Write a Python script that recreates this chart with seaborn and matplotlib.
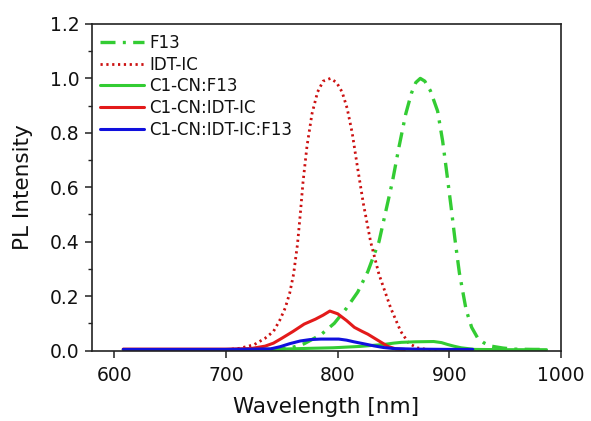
import matplotlib
matplotlib.use("Agg")
import matplotlib.pyplot as plt
import seaborn as sns
import numpy as np
from matplotlib.ticker import MultipleLocator

# ---- data ----
f13_wl = [740, 757, 770, 785, 797, 808, 818, 827, 837, 843, 849, 855, 861, 866, 870, 874,
          878, 883, 889.5, 894, 897.5, 901.5, 905, 909, 915, 920, 925.5, 931, 937.5, 948, 958, 975, 987]
f13_val = [0.004, 0.008, 0.025, 0.058, 0.10, 0.156, 0.215, 0.29, 0.40, 0.51, 0.62, 0.75, 0.87, 0.945, 0.985, 1.0,
           0.99, 0.955, 0.88, 0.77, 0.66, 0.53, 0.41, 0.285, 0.15, 0.085, 0.045, 0.028, 0.016, 0.009, 0.005, 0.004, 0.004]

idt_wl = [700, 712, 725, 735, 742.5, 748, 753, 757, 760.5, 764, 766.5, 769, 772.5, 777, 782, 787, 793.5,
          799, 804, 808.5, 813, 817.5, 823, 829.5, 837, 847.5, 856.5, 864, 872, 880, 890]
idt_val = [0.003, 0.008, 0.021, 0.045, 0.07, 0.11, 0.156, 0.21, 0.28, 0.39, 0.50, 0.62, 0.75, 0.87, 0.95, 0.99, 1.0,
           0.985, 0.95, 0.89, 0.80, 0.68, 0.54, 0.40, 0.28, 0.156, 0.07, 0.025, 0.009, 0.004, 0.003]

cf_wl = [608, 700, 748, 775, 796, 820, 841, 850, 857, 870, 886, 893, 898.5, 904, 910.5, 922.5, 950, 987]
cf_val = [0.003, 0.003, 0.005, 0.008, 0.010, 0.015, 0.022, 0.027, 0.030, 0.032, 0.033, 0.029, 0.022, 0.016, 0.010, 0.004, 0.003, 0.003]

ci_wl = [608, 650, 700, 722, 735, 742.5, 750, 760, 770, 780, 787, 793, 800, 808, 815, 822, 827, 835, 845, 852, 860]
ci_val = [0.005, 0.005, 0.005, 0.007, 0.016, 0.027, 0.045, 0.07, 0.097, 0.115, 0.13, 0.145, 0.135, 0.11, 0.085, 0.07, 0.06, 0.04, 0.015, 0.006, 0.004]

cif_wl = [608, 700, 740, 748.5, 757, 766.5, 775, 785, 801, 808, 814.5, 823, 832.5, 841, 850.5, 870, 900, 921]
cif_val = [0.004, 0.004, 0.006, 0.014, 0.025, 0.035, 0.040, 0.042, 0.042, 0.038, 0.032, 0.025, 0.017, 0.011, 0.007, 0.005, 0.004, 0.004]

labels = ["F13", "IDT-IC", "C1-CN:F13", "C1-CN:IDT-IC", "C1-CN:IDT-IC:F13"]
x_ticks = [600, 700, 800, 900, 1000]
y_ticks = [0.0, 0.2, 0.4, 0.6, 0.8, 1.0, 1.2]

sns.set_theme(style="ticks")
plt.rcParams["font.family"] = ["DejaVu Sans"]

fig = plt.figure(figsize=(5.91, 4.21), dpi=100)
ax = fig.add_axes([92/591, 1-350.5/421, (561-92)/591, (350.5-24)/421])

green = "#33CC33"
red = "#E31A1A"
dred = "#CC1111"
blue = "#1010DD"

sns.lineplot(x=f13_wl, y=f13_val, ax=ax, color=green, lw=2.4,
             linestyle=(0, (4.5, 2.2, 0.9, 2.2)), label=labels[0])
sns.lineplot(x=idt_wl, y=idt_val, ax=ax, color=dred, lw=2.0,
             linestyle=(0, (0.8, 1.3)), label=labels[1])
sns.lineplot(x=cf_wl, y=cf_val, ax=ax, color=green, lw=2.2, label=labels[2])
sns.lineplot(x=ci_wl, y=ci_val, ax=ax, color=red, lw=2.2, label=labels[3])
sns.lineplot(x=cif_wl, y=cif_val, ax=ax, color=blue, lw=2.2, label=labels[4])

ax.set_xlim(580, 1000)
ax.set_ylim(0, 1.2)
ax.set_xticks(x_ticks)
ax.set_yticks(y_ticks)
ax.set_yticklabels([f"{v:.1f}" for v in y_ticks])
ax.yaxis.set_minor_locator(MultipleLocator(0.1))
ax.tick_params(axis="both", which="major", direction="out", length=5, width=1.1,
               labelsize=13.5, color="#222222", labelcolor="#111111")
ax.tick_params(axis="x", which="major", pad=6)
ax.tick_params(axis="y", which="major", pad=4)
ax.tick_params(axis="y", which="minor", direction="out", length=3, width=1.0, color="#222222")
for s in ax.spines.values():
    s.set_visible(True)
    s.set_linewidth(1.2)
    s.set_color("#222222")

ax.set_xlabel("Wavelength [nm]", fontsize=15.5, labelpad=9, color="#111111")
ax.set_ylabel("PL Intensity", fontsize=15.5, labelpad=12, color="#111111")

leg = ax.legend(loc="upper left", bbox_to_anchor=(0.0, 0.995), frameon=False, fontsize=12,
                handlelength=2.6, handletextpad=0.35, labelspacing=0.22, borderaxespad=0.3,
                borderpad=0.2)
for t in leg.get_texts():
    t.set_color("#111111")

fig.savefig("out.png", dpi=100, facecolor="white")
